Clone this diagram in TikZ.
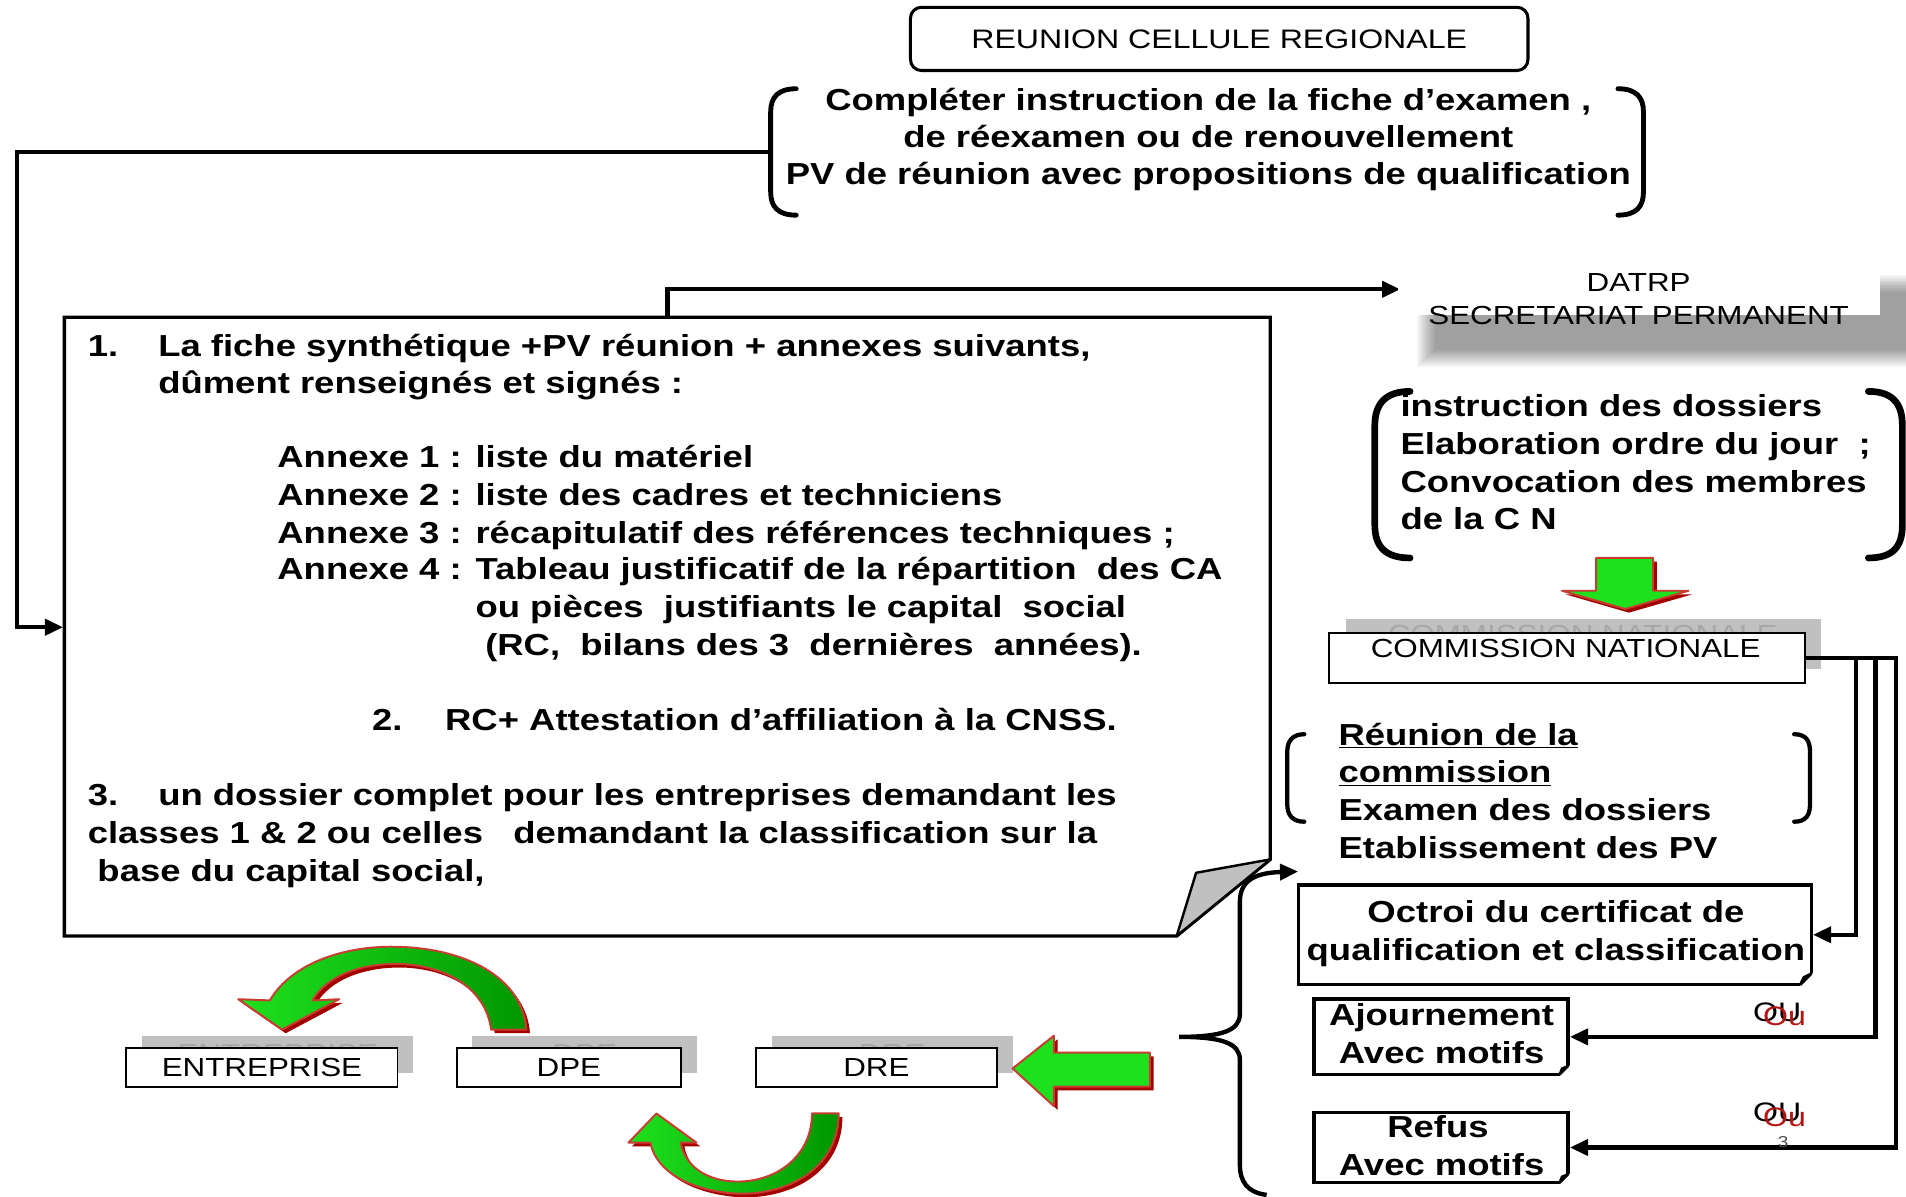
\documentclass[tikz,border=0pt]{standalone}
\usepackage{fontspec}
\setmainfont{Liberation Sans}[FakeStretch=1.2]
\usetikzlibrary{arrows.meta}
\definecolor{agreen}{RGB}{30,225,30}
\definecolor{adark}{RGB}{0,150,0}
\definecolor{aedge}{RGB}{200,60,50}
\definecolor{ashad}{RGB}{165,0,0}
\definecolor{sgray}{RGB}{192,192,192}
\definecolor{ghost}{RGB}{168,168,168}
\definecolor{oured}{RGB}{180,20,20}
\begin{document}
\begin{tikzpicture}[x=1pt,y=-1pt,
  bt/.style={font=\fontsize{25}{30}\selectfont\bfseries, inner sep=0pt, anchor=base west},
  btc/.style={bt, anchor=base},
  rt/.style={font=\fontsize{21.5}{26}\selectfont, inner sep=0pt, anchor=base},
  conn/.style={line width=3.6pt, -{Triangle[length=15pt,width=13pt]}},
  brk/.style={line width=4pt, line cap=round},
  thinbox/.style={draw, line width=1.6pt, fill=white, inner sep=0pt},
  obox/.style={draw, line width=2.8pt, fill=white, inner sep=0pt},
  gshad/.style={fill=ashad},
  gmain/.style={draw=aedge, line width=1.6pt, line join=round, left color=agreen, right color=adark},
  gflat/.style={draw=aedge, line width=1.6pt, line join=round, fill=agreen}]
\useasboundingbox (0,0) rectangle (1568,984);
\fill[white] (0,0) rectangle (1568,984);

% ---------- REUNION CELLULE REGIONALE ----------
\node[draw, line width=2.5pt, rounded corners=9pt, minimum width=508, minimum height=52, inner sep=0pt] (rcr) at (1003,32) {};
\node[rt, font=\fontsize{22}{26}\selectfont] (rcrt) at (1003,40) {REUNION CELLULE REGIONALE};

% ---------- Completer bracket ----------
\draw[brk] (655,73) .. controls (640,73) and (634,80) .. (634,92) -- (634,158) .. controls (634,170) and (640,177) .. (655,177);
\draw[brk] (1331,73) .. controls (1346,73) and (1352,80) .. (1352,92) -- (1352,158) .. controls (1352,170) and (1346,177) .. (1331,177);
\node[btc] (c1) at (994,91) {Compléter instruction de la fiche d’examen ,};
\node[btc] (c2) at (994,121) {de réexamen ou de renouvellement};
\node[btc] (c3) at (994,152) {PV de réunion avec propositions de qualification};
\coordinate (cmpL) at (634,125);

% ---------- main box ----------
\draw[line width=2.8pt, fill=white, line join=miter] (53,261) -- (1045,261) -- (1045,707) -- (968,770) -- (53,770) -- cycle;
\draw[line width=2pt, fill=sgray, line join=round] (968,770) -- (984,718) -- (1045,707) -- cycle;
\coordinate (mainW) at (52,516);
\coordinate (mainTop) at (549,261);

\node[bt] (t1n) at (72,293) {1.};
\node[bt] (t1) at (130,293) {La fiche synthétique +PV réunion + annexes suivants,};
\node[bt] (t1b) at (130,324) {dûment renseignés et signés :};
\node[bt] (a1) at (228,385) {Annexe 1 :};
\node[bt] (a1t) at (391,385) {liste du matériel};
\node[bt] (a2) at (228,416) {Annexe 2 :};
\node[bt] (a2t) at (391,416) {liste des cadres et techniciens};
\node[bt] (a3) at (228,447) {Annexe 3 :};
\node[bt] (a3t) at (391,447) {récapitulatif des références techniques ;};
\node[bt] (a4) at (228,477) {Annexe 4 :};
\node[bt] (a4t) at (391,477) {Tableau justificatif de la répartition~ des CA};
\node[bt] (a4b) at (391,508) {ou pièces~ justifiants le capital~ social};
\node[bt] (a4c) at (399,539) {(RC,~ bilans des 3~ dernières~ années).};
\node[bt] (t2n) at (306,601) {2.};
\node[bt] (t2) at (366,601) {RC+ Attestation d’affiliation à la CNSS.};
\node[bt] (t3n) at (72,663) {3.};
\node[bt] (t3) at (130,663) {un dossier complet pour les entreprises demandant les};
\node[bt] (t3b) at (72,694) {classes 1 \& 2 ou celles~~ demandant la classification sur la};
\node[bt] (t3c) at (80,725) {base du capital social,};

% ---------- connectors from top ----------
\coordinate (datrpW) at (1152,238);
\draw[conn] (cmpL) -- (14,125) |- (mainW);
\draw[conn] (mainTop) |- (datrpW);

% ---------- DATRP with soft shadow ----------
\foreach \i in {0,...,9} {
  \fill[black, opacity=0.045] (1166+\i*1.6,226+\i*1.6) rectangle (1582-\i*1.6,302-\i*1.6);
}
\fill[white] (1150,210) rectangle (1547,259);
\node[rt] (datrp) at (1348,240) {DATRP};
\node[rt] (sp) at (1348,267) {SECRETARIAT PERMANENT};

% ---------- instruction bracket ----------
\draw[brk, line width=5.5pt] (1160,322) .. controls (1140,322) and (1131,332) .. (1131,350) -- (1131,432) .. controls (1131,450) and (1140,459) .. (1160,459);
\draw[brk, line width=5.5pt] (1537,322) .. controls (1557,322) and (1565,332) .. (1565,350) -- (1565,432) .. controls (1565,450) and (1557,459) .. (1537,459);
\node[bt] (i1) at (1152,343) {instruction des dossiers};
\node[bt] (i2) at (1152,374) {Elaboration ordre du jour~~;};
\node[bt] (i3) at (1152,405) {Convocation des membres};
\node[bt] (i4) at (1152,436) {de la C N};

% ---------- green down arrow ----------
\foreach \s/\st in {3/gshad,0/gflat} {
  \path[\st, shift={(\s,\s)}] (1313,459) -- (1360,459) -- (1360,486) -- (1389,486) -- (1337,501) -- (1285,486) -- (1313,486) -- cycle;
}

% ---------- COMMISSION NATIONALE ----------
\fill[sgray] (1107,509) rectangle (1498,550);
\node[rt, text=ghost] (cng) at (1302,529) {COMMISSION NATIONALE};
\node[thinbox, minimum width=392, minimum height=41] (cn) at (1289,541.5) {};
\node[rt] (cnt) at (1288,541) {COMMISSION NATIONALE};

% ---------- Reunion bracket ----------
\draw[brk, line width=3.5pt] (1073,604) .. controls (1063,604) and (1059,610) .. (1059,618) -- (1059,662) .. controls (1059,670) and (1063,676) .. (1073,676);
\draw[brk, line width=3.5pt] (1476,604) .. controls (1486,604) and (1489,610) .. (1489,618) -- (1489,662) .. controls (1489,670) and (1486,676) .. (1476,676);
\node[bt] (r1) at (1101,613) {\underline{Réunion de la}};
\node[bt] (r2) at (1101,644) {\underline{commission}};
\node[bt] (r3) at (1101,675) {Examen des dossiers};
\node[bt] (r4) at (1101,706) {Etablissement des PV};
\coordinate (reunW) at (1068,717);

% ---------- decision boxes ----------
\node[obox, minimum width=422, minimum height=82] (oc) at (1279,769) {};
\fill[white] (1492,800) -- (1492,812) -- (1480,812) -- cycle;
\draw[line width=2.2pt, line join=round] (1490,801) -- (1481,810) (1481,810) -- (1484,804) -- (1490,801);
\node[btc] (oct1) at (1280,759) {Octroi du certificat de};
\node[btc] (oct2) at (1280,790) {qualification et classification};

\node[obox, minimum width=209, minimum height=62] (aj) at (1185.5,853) {};
\fill[white] (1292,876) -- (1292,886) -- (1282,886) -- cycle;
\draw[line width=2pt, line join=round] (1290,877) -- (1283,884) -- (1285,879) -- (1290,877);
\node[btc] (aj1) at (1186,844) {Ajournement};
\node[btc] (aj2) at (1186,875) {Avec motifs};

\node[obox, minimum width=209, minimum height=58] (rf) at (1185.5,944) {};
\fill[white] (1292,965) -- (1292,975) -- (1282,975) -- cycle;
\draw[line width=2pt, line join=round] (1290,966) -- (1283,973) -- (1285,968) -- (1290,966);
\node[btc] (rf1) at (1183,936) {Refus};
\node[btc] (rf2) at (1186,967) {Avec motifs};

% ---------- connectors from CN ----------
\draw[conn] (cn.east) -- (1527,541.5) |- (oc.east);
\draw[conn] (cn.east) -- (1543,541.5) |- (aj.east);
\draw[conn] (cn.east) -- (1560,541.5) |- (rf.east);

% OU labels
\node[rt, font=\fontsize{22}{26}\selectfont] (ou1) at (1462,840) {OU};
\node[rt, font=\fontsize{22}{26}\selectfont, text=oured] (ou1r) at (1468,844) {Ou};
\node[rt, font=\fontsize{22}{26}\selectfont] (ou2) at (1462,923) {OU};
\node[rt, font=\fontsize{22}{26}\selectfont, text=oured] (ou2r) at (1468,927) {Ou};
\node[rt, font=\fontsize{13}{15}\selectfont, text=black!70] (pg) at (1467,944) {3};

% ---------- big brace with arrow ----------
\draw[line width=3.6pt, -{Triangle[length=15pt,width=13pt]}] (1042,983) .. controls (1026,981) and (1020,972) .. (1020,958) -- (1020,872) .. controls (1020,858) and (1005,853) .. (970,853) .. controls (1005,853) and (1020,848) .. (1020,834) -- (1020,742) .. controls (1020,726) and (1030,718) .. (reunW);

% ---------- bottom row boxes ----------
\fill[sgray] (117,852) rectangle (340,883);
\node[rt, text=ghost] (eng) at (228.5,874) {ENTREPRISE};
\fill[sgray] (388,852) rectangle (573,883);
\node[rt, text=ghost] (dpg) at (481,874) {DPE};
\fill[sgray] (635,852) rectangle (833,883);
\node[rt, text=ghost] (drg) at (734,874) {DRE};

\node[thinbox, minimum width=223, minimum height=32] (ent) at (215.5,878) {};
\node[rt] (entt) at (215.5,886) {ENTREPRISE};
\node[thinbox, minimum width=184, minimum height=32] (dpe) at (468,878) {};
\node[rt] (dpet) at (468,886) {DPE};
\node[thinbox, minimum width=198, minimum height=32] (dre) at (721,878) {};
\node[rt] (dret) at (721,886) {DRE};

% ---------- green curved arrows ----------
% DPE -> ENTREPRISE
\foreach \s/\st in {3/gshad,0/gmain} {
  \path[\st, shift={(\s,\s)}] (404,847) -- (433,847)
    .. controls (430,805) and (385,781) .. (330,779)
    .. controls (285,777) and (240,792) .. (222,823)
    -- (196,822) -- (232,847) -- (279,822) -- (257,823)
    .. controls (268,804) and (295,792) .. (330,793)
    .. controls (370,795) and (400,815) .. cycle;
}
% DRE -> DPE
\foreach \s/\st in {3/gshad,0/gmain} {
  \path[\st, shift={(\s,\s)}] (668,916) -- (690,916)
    .. controls (690,960) and (650,983) .. (607,982)
    .. controls (570,980) and (540,965) .. (535,940)
    -- (517,940) -- (540,916) -- (573,940) -- (560,940)
    .. controls (563,958) and (580,972) .. (607,972)
    .. controls (640,972) and (668,950) .. cycle;
}
% straight arrow into DRE
\foreach \s/\st in {3/gshad,0/gflat} {
  \path[\st, shift={(\s,\s)}] (946,866) -- (946,894) -- (867,894) -- (867,910) -- (833,879) -- (867,852) -- (867,866) -- cycle;
}
\end{tikzpicture}
\end{document}
